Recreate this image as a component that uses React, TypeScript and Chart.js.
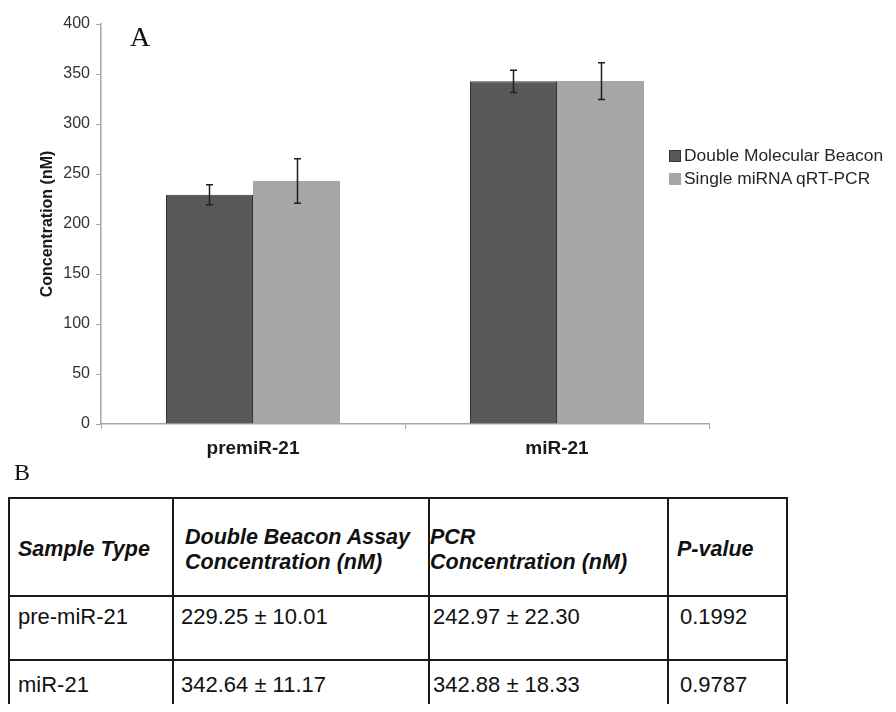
import React, { useEffect, useRef } from "react";
import { Chart, registerables } from "chart.js";

Chart.register(...registerables);

const categories = ["premiR-21", "miR-21"];
const seriesLabels = ["Double Molecular Beacon", "Single miRNA qRT-PCR"];
const beaconValues = [229.25, 342.64];
const beaconErrors = [10.01, 11.17];
const pcrValues = [242.97, 342.88];
const pcrErrors = [22.3, 18.33];
const yTicks = [0, 50, 100, 150, 200, 250, 300, 350, 400];
const yTitle = "Concentration (nM)";

const tableHeaders = [
  ["Sample Type"],
  ["Double Beacon Assay", "Concentration (nM)"],
  ["PCR", "Concentration (nM)"],
  ["P-value"],
];
const sampleTypes = ["pre-miR-21", "miR-21"];
const pValues = ["0.1992", "0.9787"];

const seriesColors = ["#595959", "#a6a6a6"];
const errorSets = [beaconErrors, pcrErrors];

const SANS = '"Liberation Sans", Arial, sans-serif';
const SERIF = '"Liberation Serif", "Times New Roman", serif';

const errorBarPlugin = {
  id: "errorBars",
  afterDatasetsDraw(chart: any) {
    const ctx = chart.ctx;
    const y = chart.scales.y;
    chart.data.datasets.forEach((ds: any, i: number) => {
      const meta = chart.getDatasetMeta(i);
      const errs = errorSets[i];
      meta.data.forEach((bar: any, j: number) => {
        const v = ds.data[j];
        const e = errs[j];
        const yTop = y.getPixelForValue(v + e);
        const yBot = y.getPixelForValue(v - e);
        const x = Math.round(bar.x) + 0.5;
        ctx.save();
        ctx.strokeStyle = "#1f1f1f";
        ctx.lineWidth = 1.5;
        ctx.beginPath();
        ctx.moveTo(x, yTop);
        ctx.lineTo(x, yBot);
        ctx.moveTo(x - 3.5, yTop);
        ctx.lineTo(x + 3.5, yTop);
        ctx.moveTo(x - 3.5, yBot);
        ctx.lineTo(x + 3.5, yBot);
        ctx.stroke();
        ctx.restore();
      });
    });
  },
};

function BarChart() {
  const ref = useRef<HTMLCanvasElement | null>(null);
  useEffect(() => {
    if (!ref.current) return;
    const chart = new Chart(ref.current, {
      type: "bar",
      data: {
        labels: categories,
        datasets: [
          {
            label: seriesLabels[0],
            data: beaconValues,
            backgroundColor: seriesColors[0],
            borderColor: "#333333",
            borderWidth: 1,
            categoryPercentage: 0.5724,
            barPercentage: 1,
          },
          {
            label: seriesLabels[1],
            data: pcrValues,
            backgroundColor: seriesColors[1],
            borderWidth: 0,
            categoryPercentage: 0.5724,
            barPercentage: 1,
          },
        ],
      },
      options: {
        responsive: false,
        animation: false,
        devicePixelRatio: 1,
        layout: { padding: { left: 34, right: 187, top: 24, bottom: 0 } },
        plugins: { legend: { display: false }, tooltip: { enabled: false } },
        scales: {
          x: {
            grid: {
              display: true,
              drawOnChartArea: false,
              drawTicks: true,
              tickLength: 5,
              color: "#a6a6a6",
              offset: true,
            },
            border: { color: "#a6a6a6", width: 1.5 },
            ticks: {
              padding: 8,
              color: "#1a1a1a",
              font: { family: SANS, size: 19, weight: "bold" },
            },
            afterFit(scale: any) {
              scale.height = 46;
            },
          },
          y: {
            min: 0,
            max: 400,
            afterBuildTicks(scale: any) {
              scale.ticks = yTicks.map((v) => ({ value: v }));
            },
            grid: {
              display: true,
              drawOnChartArea: false,
              drawTicks: true,
              tickLength: 5,
              color: "#a6a6a6",
            },
            border: { color: "#a6a6a6", width: 1.5 },
            ticks: {
              padding: 6,
              color: "#333333",
              font: { family: SANS, size: 16 },
            },
            title: {
              display: true,
              text: yTitle,
              color: "#1a1a1a",
              font: { family: SANS, size: 16, weight: "bold" },
            },
            afterFit(scale: any) {
              scale.width = 67;
            },
          },
        },
      },
      plugins: [errorBarPlugin],
    });
    return () => chart.destroy();
  }, []);
  return (
    <canvas
      ref={ref}
      width={896}
      height={470}
      style={{ width: 896, height: 470, display: "block" }}
    />
  );
}

export default function App() {
  const cellBase: React.CSSProperties = {
    border: "2px solid #1a1a1a",
    padding: 0,
    color: "#111",
  };
  const headPad = [8, 11, 0, 8];
  const bodyPad = [8, 7, 3, 11];
  const rowTopPad = [7, 11];
  const rows = sampleTypes.map((s, i) => [
    s,
    `${beaconValues[i].toFixed(2)} ± ${beaconErrors[i].toFixed(2)}`,
    `${pcrValues[i].toFixed(2)} ± ${pcrErrors[i].toFixed(2)}`,
    pValues[i],
  ]);
  return (
    <div style={{ position: "relative", width: 880, height: 696, fontFamily: SANS }}>
      <div style={{ position: "absolute", left: -8, top: -8, width: 896, height: 470 }}>
        <BarChart />
      </div>
      <div
        style={{
          position: "absolute",
          left: 122,
          top: 15,
          fontFamily: SERIF,
          fontSize: 28,
          lineHeight: "28px",
          color: "#111",
        }}
      >
        A
      </div>
      <div
        style={{
          position: "absolute",
          left: 661,
          top: 136,
          width: 219,
          color: "#262626",
          fontSize: 17.4,
        }}
      >
        {seriesLabels.map((l, i) => (
          <div key={l} style={{ display: "flex", alignItems: "center", height: 23, whiteSpace: "nowrap" }}>
            <span
              style={{
                display: "inline-block",
                flex: "0 0 12px",
                width: 12,
                height: 12,
                boxSizing: "border-box",
                background: seriesColors[i],
                border: i === 0 ? "1px solid #333" : "none",
                marginRight: 3,
              }}
            />
            <span style={{ flex: "0 0 auto" }}>{l}</span>
          </div>
        ))}
      </div>
      <div
        style={{
          position: "absolute",
          left: 6,
          top: 452,
          fontFamily: SERIF,
          fontSize: 24,
          lineHeight: "24px",
          color: "#111",
        }}
      >
        B
      </div>
      <div style={{ position: "absolute", left: -1, top: 488, width: 800, height: 216, overflow: "hidden" }}>
        <table
          style={{
            borderCollapse: "collapse",
            tableLayout: "fixed",
            width: 780,
            marginLeft: 1,
            marginTop: 1,
          }}
        >
          <colgroup>
            <col style={{ width: 164 }} />
            <col style={{ width: 256 }} />
            <col style={{ width: 239 }} />
            <col style={{ width: 119 }} />
          </colgroup>
          <thead>
            <tr style={{ height: 98 }}>
              {tableHeaders.map((h, i) => (
                <th
                  key={i}
                  style={{
                    ...cellBase,
                    paddingLeft: headPad[i],
                    paddingTop: 5,
                    textAlign: "left",
                    verticalAlign: "middle",
                    fontStyle: "italic",
                    fontWeight: "bold",
                    fontSize: 21.5,
                    lineHeight: "25px",
                  }}
                >
                  {h.map((line, k) => (
                    <div key={k}>{line}</div>
                  ))}
                </th>
              ))}
            </tr>
          </thead>
          <tbody>
            {rows.map((r, ri) => (
              <tr key={ri} style={{ height: 64 }}>
                {r.map((c, ci) => (
                  <td
                    key={ci}
                    style={{
                      ...cellBase,
                      paddingLeft: bodyPad[ci],
                      paddingTop: rowTopPad[ri],
                      verticalAlign: "top",
                      fontSize: 22,
                      lineHeight: "25px",
                    }}
                  >
                    {c}
                  </td>
                ))}
              </tr>
            ))}
          </tbody>
        </table>
      </div>
    </div>
  );
}
